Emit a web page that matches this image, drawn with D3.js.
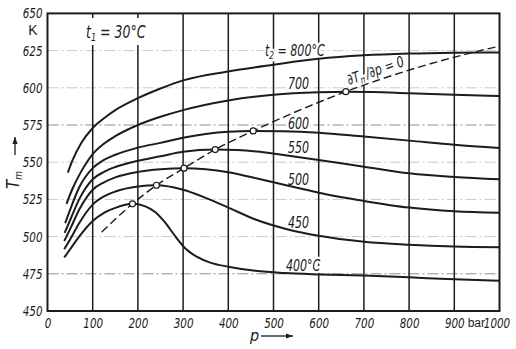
<!DOCTYPE html>
<html>
<head>
<meta charset="utf-8">
<script src="https://cdn.jsdelivr.net/npm/d3@7/dist/d3.min.js"></script>
<style>
  html, body { margin: 0; padding: 0; background: #fff; }
  svg { display: block; }
  .num { font-family: "Liberation Sans Narrow", "DejaVu Sans Condensed", "Liberation Sans", sans-serif; font-style: italic; fill: #1c1c1c; }
  .up { font-family: "Liberation Sans", "DejaVu Sans", sans-serif; fill: #1c1c1c; }
</style>
</head>
<body>
<svg id="chart" width="516" height="349"></svg>
<script>
// Mean temperature T_m (K) against pressure p (bar), one curve per outlet temperature t2
const xTicks = [0, 100, 200, 300, 400, 500, 600, 700, 800, 900, 1000];
const yTicks = [450, 475, 500, 525, 550, 575, 600, 625, 650];
const hGrid = [475, 500, 525, 550, 575, 600, 625];

const p400 = [37, 50, 70, 100, 125, 150, 188, 215, 238, 260, 282, 305, 330, 360, 400, 460, 525, 600, 700, 800, 900, 1000];
const T400 = [486, 491.5, 500, 510.5, 516, 519.3, 522, 520.5, 516.5, 509.5, 500.5, 492, 486.5, 482.5, 479.8, 477, 475.5, 474.6, 473.8, 472.6, 471.3, 470.3];

const p450 = [37, 50, 70, 100, 125, 150, 200, 241, 300, 350, 400, 460, 530, 600, 700, 800, 900, 1000];
const T450 = [491.5, 498, 509, 521.5, 527, 530.3, 533.7, 534.5, 531.5, 526, 519.5, 511.5, 505, 500.5, 496.5, 494.5, 493.3, 492.8];

const p500 = [37, 50, 70, 100, 125, 150, 200, 250, 302, 350, 400, 450, 500, 550, 600, 700, 800, 900, 1000];
const T500 = [497, 505, 518, 531.5, 536.5, 539.8, 543.5, 545.3, 546, 545.3, 543.3, 540, 536.5, 533, 529.5, 524, 519.5, 517, 516];

const p550 = [38, 50, 70, 100, 125, 150, 200, 250, 300, 371, 420, 470, 530, 600, 700, 800, 900, 1000];
const T550 = [502.5, 511, 525, 538.5, 543.5, 546.8, 551, 554, 557, 558.5, 558.2, 557, 554.5, 551.5, 547, 542.5, 540, 538.5];

const p600 = [39, 50, 70, 100, 125, 150, 200, 250, 300, 350, 400, 455, 520, 600, 700, 800, 900, 1000];
const T600 = [509, 518, 533, 546, 551.5, 555, 559.8, 563, 566.5, 569, 570.5, 571, 570.8, 569.8, 567.2, 564.5, 561.7, 559.5];

const p700 = [42, 55, 75, 100, 125, 150, 200, 250, 300, 400, 500, 600, 660, 720, 800, 900, 1000];
const T700 = [522, 532, 544, 555.5, 562.5, 567.5, 575, 580.5, 585, 591.5, 595.3, 597, 597.4, 597.2, 596.3, 595.3, 594.5];

const p800 = [45, 55, 75, 100, 125, 150, 200, 250, 300, 400, 500, 600, 700, 800, 900, 1000];
const T800 = [543, 551, 563, 573, 579.5, 585, 593, 599.5, 605, 611, 615.5, 619.5, 621.8, 623, 623.6, 623.8];

// Locus of the maxima, dT_m/dp = 0
const ridgeP = [120, 188, 241, 302, 371, 455, 660, 940, 1000];
const ridgeT = [503, 522, 534.5, 546, 558.5, 571, 597.4, 623.7, 628];
// Maxima marked with open circles
const peakP = [188, 241, 302, 371, 455, 660];
const peakT = [522, 534.5, 546, 558.5, 571, 597.4];

const curveLabels = ["700", "600", "550", "500", "450"];
const curveLabelY = [89, 129, 153, 185, 228];

const series = [
  { p: p400, T: T400 }, { p: p450, T: T450 }, { p: p500, T: T500 },
  { p: p550, T: T550 }, { p: p600, T: T600 }, { p: p700, T: T700 }, { p: p800, T: T800 }
];

const svg = d3.select("#chart");
const x = d3.scaleLinear().domain([0, 1000]).range([47.5, 499.5]);
const y = d3.scaleLinear().domain([450, 650]).range([311, 13.4]);
const ink = "#1c1c1c";
const SX = 0.82; // narrow the italic lettering

// faint dash-dot horizontal rules
svg.append("g").selectAll("line").data(hGrid).join("line")
  .attr("x1", x(0)).attr("x2", x(1000))
  .attr("y1", d => y(d)).attr("y2", d => y(d))
  .attr("stroke", d => (d === 475 || d === 575) ? "#8a8aa6" : "#c9c9d6")
  .attr("stroke-width", 1)
  .attr("stroke-dasharray", "11,3,2,3");

// vertical grid
svg.append("g").selectAll("line").data(xTicks.slice(1, -1)).join("line")
  .attr("x1", d => x(d)).attr("x2", d => x(d))
  .attr("y1", y(650)).attr("y2", y(450))
  .attr("stroke", ink).attr("stroke-width", 1.5);

// labels inside the plot, knocked out of the grid
const halo = g => g.attr("stroke", "#fff").attr("stroke-width", 5).attr("paint-order", "stroke").attr("stroke-linejoin", "round");
const label = (px, py, size, rot = 0) => svg.append("text").attr("class", "num")
  .attr("font-size", size)
  .attr("transform", `translate(${px},${py}) rotate(${rot}) scale(${SX},1)`);

svg.append("rect").attr("x", 86).attr("y", 18).attr("width", 62).attr("height", 27).attr("fill", "#fff");
const t1 = label(86, 38, 17);
t1.append("tspan").text("t");
t1.append("tspan").attr("font-size", 11).attr("dy", 3).text("1");
t1.append("tspan").attr("dy", -3).text(" = 30°C");

const t2 = label(265, 56, 15).call(halo);
t2.append("tspan").text("t");
t2.append("tspan").attr("font-size", 10).attr("dy", 3).text("2");
t2.append("tspan").attr("dy", -3).text(" = 800°C");

curveLabels.forEach((t, i) => label(288, curveLabelY[i], 15).call(halo).text(t));
label(286, 271, 15).call(halo).text("400°C");

const dl = label(349, 85, 15, -19).call(halo);
dl.append("tspan").text("∂T");
dl.append("tspan").attr("font-size", 10).attr("dy", 3).text("m");
dl.append("tspan").attr("dy", -3).text("/∂p = 0");

// curves
const line = d3.line().x(d => x(d[0])).y(d => y(d[1])).curve(d3.curveMonotoneX);
svg.append("g").selectAll("path").data(series).join("path")
  .attr("d", s => line(s.p.map((p, i) => [p, s.T[i]])))
  .attr("fill", "none").attr("stroke", ink).attr("stroke-width", 2);

svg.append("path")
  .attr("d", line(ridgeP.map((p, i) => [p, ridgeT[i]])))
  .attr("fill", "none").attr("stroke", ink).attr("stroke-width", 1.4)
  .attr("stroke-dasharray", "8,4");

svg.append("g").selectAll("circle").data(peakP).join("circle")
  .attr("cx", d => x(d)).attr("cy", (d, i) => y(peakT[i])).attr("r", 3)
  .attr("fill", "#fff").attr("stroke", ink).attr("stroke-width", 1.2);

// frame
svg.append("rect").attr("x", x(0)).attr("y", y(650))
  .attr("width", x(1000) - x(0)).attr("height", y(450) - y(650))
  .attr("fill", "none").attr("stroke", ink).attr("stroke-width", 2);

// axes
const yAxis = d3.axisLeft(y).tickValues(yTicks).tickSize(0).tickPadding(4);
const gy = svg.append("g").attr("transform", `translate(${x(0) - 1},0)`).call(yAxis);
gy.select(".domain").remove();
gy.selectAll("text").attr("class", "num").attr("font-size", 14).attr("fill", ink)
  .attr("transform", `scale(${SX},1)`).attr("x", -4 / SX);

const xAxis = d3.axisBottom(x).tickValues(xTicks).tickSize(0).tickPadding(7).tickFormat(d3.format("d"));
const gx = svg.append("g").attr("transform", `translate(0,${y(450)})`).call(xAxis);
gx.select(".domain").remove();
gx.selectAll("text").attr("class", "num").attr("font-size", 14).attr("fill", ink)
  .attr("transform", `scale(${SX},1)`)
  .attr("x", d => d === 1000 ? -3 / SX : 0);

svg.append("text").attr("class", "up").attr("font-size", 12)
  .attr("x", 485).attr("y", 327).attr("text-anchor", "end").text("bar");

svg.append("text").attr("class", "up").attr("font-size", 14)
  .attr("x", 33).attr("y", 35).attr("text-anchor", "middle").text("K");

// axis titles with arrows
const yt = svg.append("text").attr("class", "num").attr("font-size", 17)
  .attr("transform", "translate(19,189) rotate(-90)");
yt.append("tspan").text("T");
yt.append("tspan").attr("font-size", 10).attr("dy", 3).text("m");

const arrow = (x1, y1, x2, y2) => {
  svg.append("line").attr("x1", x1).attr("y1", y1).attr("x2", x2).attr("y2", y2)
    .attr("stroke", ink).attr("stroke-width", 1.3);
  const a = Math.atan2(y2 - y1, x2 - x1), L = 7, W = 2.6;
  const bx = x2 - L * Math.cos(a), by = y2 - L * Math.sin(a);
  svg.append("path")
    .attr("d", `M${x2},${y2}L${bx - W * Math.sin(a)},${by + W * Math.cos(a)}L${bx + W * Math.sin(a)},${by - W * Math.cos(a)}Z`)
    .attr("fill", ink);
};
arrow(15, 155, 15, 137);

svg.append("text").attr("class", "num").attr("font-size", 16)
  .attr("x", 250).attr("y", 341).text("p");
arrow(261, 336, 293, 336);
</script>
</body>
</html>
